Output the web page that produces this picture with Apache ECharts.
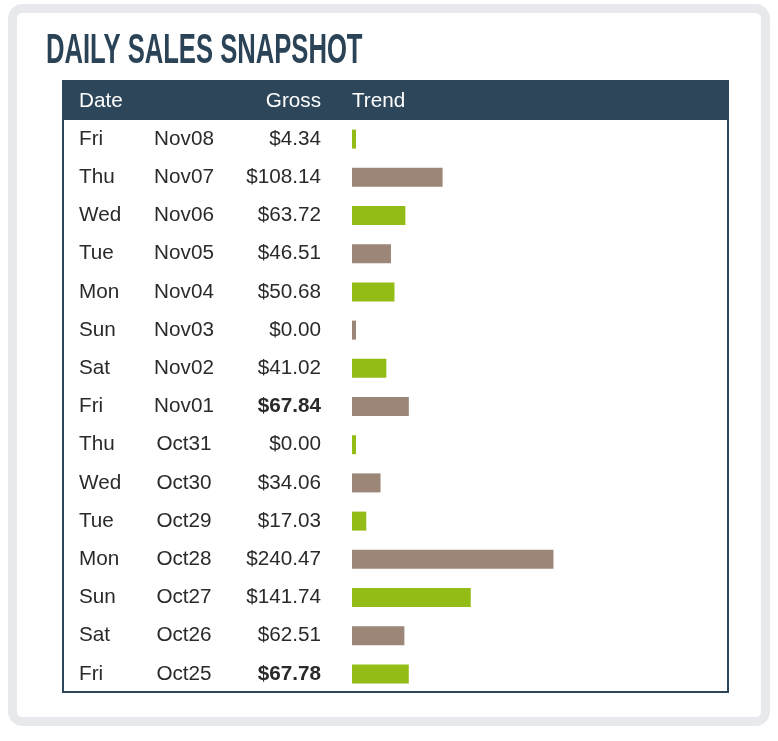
<!DOCTYPE html>
<html>
<head>
<meta charset="utf-8">
<title>Daily Sales Snapshot</title>
<script src="https://cdn.jsdelivr.net/npm/echarts@6/dist/echarts.min.js"></script>
<style>
  html, body { margin: 0; padding: 0; background: #fff; }
  #chart { width: 778px; height: 741px; }
</style>
</head>
<body>
<div id="chart"></div>
<script>
const days = ["Fri", "Thu", "Wed", "Tue", "Mon", "Sun", "Sat", "Fri", "Thu", "Wed", "Tue", "Mon", "Sun", "Sat", "Fri"];
const dates = ["Nov08", "Nov07", "Nov06", "Nov05", "Nov04", "Nov03", "Nov02", "Nov01", "Oct31", "Oct30", "Oct29", "Oct28", "Oct27", "Oct26", "Oct25"];
const gross = [4.34, 108.14, 63.72, 46.51, 50.68, 0.0, 41.02, 67.84, 0.0, 34.06, 17.03, 240.47, 141.74, 62.51, 67.78];
const boldRows = ["Nov01", "Oct25"];
const barColors = ["#94bc16", "#9c8678"];

const font = '"Liberation Sans", Arial, Helvetica, sans-serif';
const fontSize = 20.7;
const navy = "#2e4659";
const textColor = "#2a2a2a";

const chart = echarts.init(document.getElementById("chart"));

function labelAxis(data, margin, align, formatter) {
  return {
    type: "category",
    data: data,
    inverse: true,
    position: "left",
    axisLine: { show: false },
    axisTick: { show: false },
    splitLine: { show: false },
    axisLabel: {
      interval: 0,
      margin: margin,
      align: align,
      fontFamily: font,
      fontSize: fontSize,
      color: textColor,
      formatter: formatter,
      rich: {
        b: { fontFamily: font, fontSize: fontSize, fontWeight: "bold", color: textColor },
      },
    },
  };
}

let option = {
  animation: false,
  grid: { left: 352, right: 49, top: 120, bottom: 48 },
  xAxis: {
    type: "value",
    min: 0,
    max: 450,
    show: false,
  },
  yAxis: [
    labelAxis(days, 273, "left"),
    labelAxis(dates, 168, "center"),
    labelAxis(dates, 31, "right", function (value, index) {
      let s = "$" + gross[index].toFixed(2);
      return boldRows.indexOf(value) >= 0 ? "{b|" + s + "}" : s;
    }),
  ],
  series: [
    {
      type: "bar",
      yAxisIndex: 0,
      data: gross,
      barWidth: 19,
      barMinHeight: 4,
      silent: true,
      itemStyle: {
        color: function (params) {
          return barColors[params.dataIndex % 2];
        },
      },
    },
  ],
  graphic: [
    // outer frame
    {
      type: "rect",
      shape: { x: 12.5, y: 8.5, width: 753, height: 713, r: 10 },
      style: { fill: "#fff", stroke: "#e8e9ed", lineWidth: 9 },
      z: -10,
      silent: true,
    },
    // title
    {
      type: "text",
      x: 46,
      y: 51,
      scaleX: 0.61,
      style: {
        text: "DAILY SALES SNAPSHOT",
        font: 'bold 42px "Liberation Sans Narrow", "Liberation Sans", Arial, sans-serif',
        fill: "#2b4357",
        textVerticalAlign: "middle",
      },
      silent: true,
    },
    // header bar
    {
      type: "rect",
      shape: { x: 62, y: 81, width: 667, height: 39 },
      style: { fill: navy },
      silent: true,
    },
    {
      type: "text",
      x: 79,
      y: 101,
      style: { text: "Date", font: fontSize + "px " + font, fill: "#fff", textVerticalAlign: "middle" },
      silent: true,
    },
    {
      type: "text",
      x: 321,
      y: 101,
      style: { text: "Gross", font: fontSize + "px " + font, fill: "#fff", textAlign: "right", textVerticalAlign: "middle" },
      silent: true,
    },
    {
      type: "text",
      x: 352,
      y: 101,
      style: { text: "Trend", font: fontSize + "px " + font, fill: "#fff", textVerticalAlign: "middle" },
      silent: true,
    },
    // table border
    {
      type: "rect",
      shape: { x: 63, y: 81, width: 665, height: 611 },
      style: { fill: null, stroke: navy, lineWidth: 2 },
      z: 10,
      silent: true,
    },
  ],
};

chart.setOption(option);
</script>
</body>
</html>
